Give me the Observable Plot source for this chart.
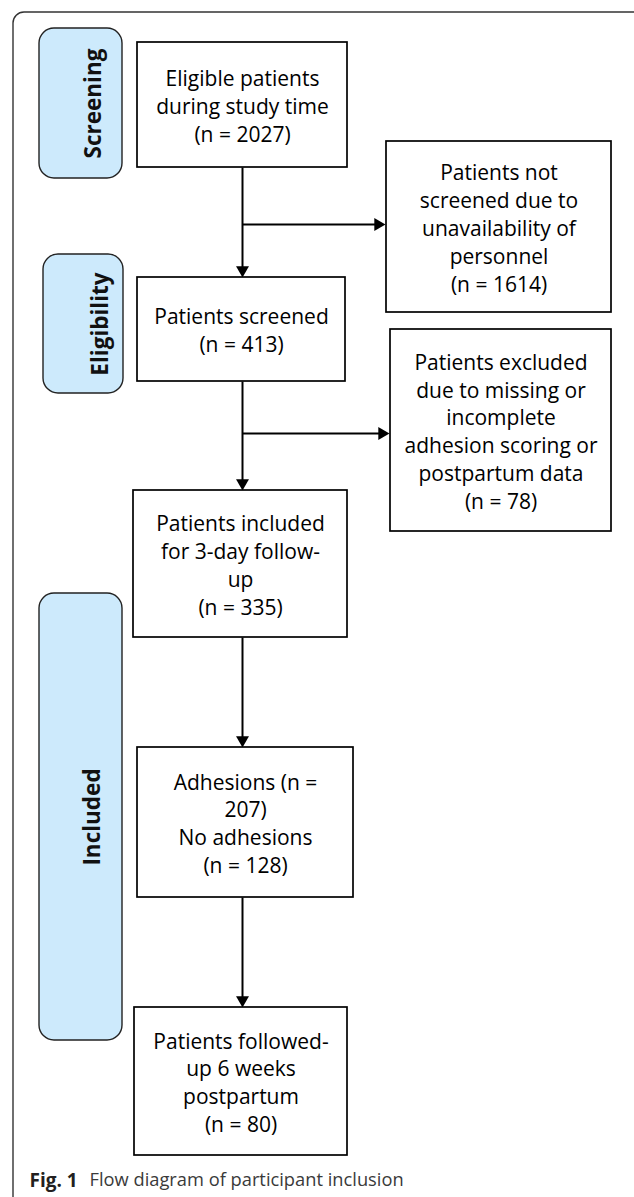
<!DOCTYPE html>
<html>
<head>
<meta charset="utf-8">
<script src="https://cdn.jsdelivr.net/npm/d3@7"></script>
<script src="https://cdn.jsdelivr.net/npm/@observablehq/plot@0.6"></script>
<style>
  body { margin: 0; background: #fff; }
</style>
</head>
<body>
<div id="chart"></div>
<script>
// ---- DATA ----
const stageNames = ["Screening", "Eligibility", "Included"];
const stepLabels = [
  "Eligible patients\nduring study time",
  "Patients screened",
  "Patients included\nfor 3-day follow-\nup",
  null,
  "Patients followed-\nup 6 weeks\npostpartum"
];
const stepCounts = [2027, 413, 335, null, 80];
const adhesionGroups = ["Adhesions", "No adhesions"];
const adhesionCounts = [207, 128];
const exclusionLabels = [
  "Patients not\nscreened due to\nunavailability of\npersonnel",
  "Patients excluded\ndue to missing or\nincomplete\nadhesion scoring or\npostpartum data"
];
const exclusionCounts = [1614, 78];
const captionLabel = "Fig. 1";
const captionText = "Flow diagram of participant inclusion";

// ---- LAYOUT (diagram geometry, px) ----
const W = 634, H = 1197;
const stageGeom = [[39, 122, 28, 178], [43, 123, 254, 393], [39, 122, 593, 1040]];
const stageTextX = [93, 100, 92];
const stepGeom = [[137, 347, 42, 167], [137, 345, 277, 381], [133, 347, 490, 637], [137, 353, 747, 897], [134, 347, 1007, 1155]];
const exclGeom = [[386, 611, 141, 312], [390, 611, 329, 531]];
const exclArrowY = [224, 433];
const spineX = 242;
const headR = 4.8;
const tipOff = 2 * headR * Math.sqrt(Math.PI / (3 * Math.sqrt(3)));

const FONT = "'Open Sans', 'Noto Sans', sans-serif";

const stepText = stepLabels.map((l, i) =>
  l === null
    ? `${adhesionGroups[0]} (n =\n${adhesionCounts[0]})\n${adhesionGroups[1]}\n(n = ${adhesionCounts[1]})`
    : `${l}\n(n = ${stepCounts[i]})`
);
const exclText = exclusionLabels.map((l, i) => `${l}\n(n = ${exclusionCounts[i]})`);

const box = (g, text) => ({x1: g[0], x2: g[1], y1: g[2], y2: g[3], cx: (g[0] + g[1]) / 2, cy: (g[2] + g[3]) / 2, text});
const steps = stepGeom.map((g, i) => box(g, stepText[i]));
const excls = exclGeom.map((g, i) => box(g, exclText[i]));
const stages = stageGeom.map((g, i) => ({...box(g, stageNames[i]), tx: stageTextX[i]}));

// connectors
const links = [];
const heads = [];
for (let i = 0; i < steps.length - 1; i++) {
  const yTip = steps[i + 1].y1;
  links.push({x1: spineX, y1: steps[i].y2, x2: spineX, y2: yTip - tipOff});
  heads.push({x: spineX, y: yTip - tipOff, rot: 180});
}
excls.forEach((e, i) => {
  const xTip = e.x1 - 1;
  links.push({x1: spineX, y1: exclArrowY[i], x2: xTip - tipOff, y2: exclArrowY[i]});
  heads.push({x: xTip - tipOff, y: exclArrowY[i], rot: 90});
});

const frame = [{x1: 13, x2: W + 30, y1: 12, y2: H + 30}];

const chart = Plot.plot({
  width: W,
  height: H,
  margin: 0,
  x: {domain: [0, W], range: [0, W], axis: null},
  y: {domain: [0, H], range: [0, H], axis: null},
  style: {fontFamily: FONT, background: "#fff"},
  marks: [
    Plot.rect(frame, {x1: "x1", x2: "x2", y1: "y1", y2: "y2", rx: 11, fill: "none", stroke: "#333", strokeWidth: 1.4}),
    Plot.rect(stages, {x1: "x1", x2: "x2", y1: "y1", y2: "y2", rx: 15, fill: "#cdeafc", stroke: "#222", strokeWidth: 1.4}),
    Plot.text(stages, {x: "tx", y: "cy", text: "text", rotate: -90, fontSize: 22.5, fontWeight: "bold", fontFamily: FONT, fill: "#111"}),
    Plot.link(links, {x1: "x1", y1: "y1", x2: "x2", y2: "y2", stroke: "#000", strokeWidth: 2}),
    Plot.dot(heads, {x: "x", y: "y", r: headR, symbol: "triangle", rotate: "rot", fill: "#000", stroke: null}),
    Plot.rect(steps, {x1: "x1", x2: "x2", y1: "y1", y2: "y2", fill: "#fff", stroke: "#000", strokeWidth: 1.7}),
    Plot.rect(excls, {x1: "x1", x2: "x2", y1: "y1", y2: "y2", fill: "#fff", stroke: "#000", strokeWidth: 1.7}),
    Plot.text(steps, {x: "cx", y: "cy", text: "text", fontSize: 21, lineHeight: 1.33, fontFamily: FONT, fill: "#000"}),
    Plot.text(excls, {x: "cx", y: "cy", text: "text", fontSize: 21, lineHeight: 1.33, fontFamily: FONT, fill: "#000"}),
    Plot.text([captionLabel], {x: () => 29, y: () => 1180, text: d => d, textAnchor: "start", fontSize: 19, fontWeight: "bold", fontFamily: FONT, fill: "#231f20"}),
    Plot.text([captionText], {x: () => 89, y: () => 1180, text: d => d, textAnchor: "start", fontSize: 18.3, fontFamily: FONT, fill: "#3a3a3a"})
  ]
});
document.getElementById("chart").append(chart);
</script>
</body>
</html>
